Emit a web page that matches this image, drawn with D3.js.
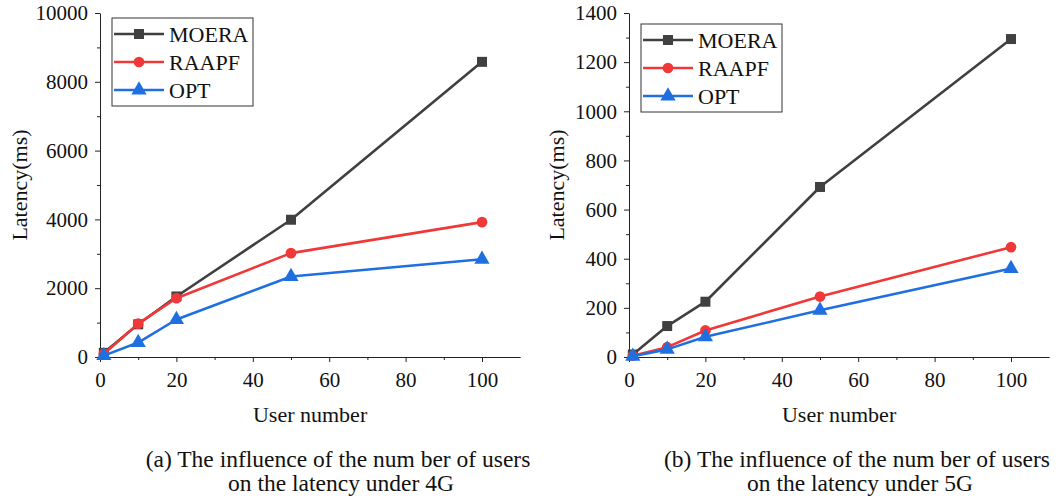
<!DOCTYPE html>
<html>
<head>
<meta charset="utf-8">
<script src="https://cdn.jsdelivr.net/npm/d3@7"></script>
<style>
  body { margin: 0; background: #fff; }
  .axis path, .axis line { stroke: #222; stroke-width: 1; }
  svg text { font-family: "Liberation Serif", "Times New Roman", serif; }
</style>
</head>
<body>
<div id="chart"></div>
<script>
// user counts on the x axis
const users = [1, 10, 20, 50, 100];
const seriesNames = ["MOERA", "RAAPF", "OPT"];

// latency (ms) under 4G
const moera4g = [120, 950, 1760, 3990, 8580];
const raapf4g = [90, 970, 1710, 3020, 3920];
const opt4g = [40, 420, 1090, 2340, 2840];

// latency (ms) under 5G
const moera5g = [10, 126, 225, 692, 1294];
const raapf5g = [5, 40, 108, 246, 447];
const opt5g = [3, 31, 82, 190, 360];

const captions4g = ["(a) The influence of the num ber of users", "on the latency under 4G"];
const captions5g = ["(b) The influence of the num ber of users", "on the latency under 5G"];

var colors = ["#404040", "#f03838", "#1f6fe0"];
var shapes = [d3.symbolSquare, d3.symbolCircle, d3.symbolTriangle];
var shapeSize = [100, 90, 100];

const W = 1061, H = 503;
var svg = d3.select("#chart").append("svg")
  .attr("width", W)
  .attr("height", H);

function drawPanel(opts) {
  let g = svg.append("g");
  let x = d3.scaleLinear().domain([0, 110]).range([opts.left, opts.left + 382 * 1.1]);
  let y = d3.scaleLinear().domain([0, opts.ymax]).range([357, 13]);

  // minor ticks first, then major with labels
  g.append("g").attr("class", "axis")
    .attr("transform", "translate(0,357)")
    .call(d3.axisBottom(x).tickValues(d3.range(10, 110, 20)).tickSize(3).tickFormat(""))
    .select(".domain").remove();
  g.append("g").attr("class", "axis")
    .attr("transform", "translate(0,357)")
    .call(d3.axisBottom(x).tickValues(d3.range(0, 101, 20)).tickSize(5).tickSizeOuter(0)
      .tickPadding(10).tickFormat(d3.format("d")));

  g.append("g").attr("class", "axis")
    .attr("transform", "translate(" + opts.left + ",0)")
    .call(d3.axisLeft(y).tickValues(d3.range(opts.ystep / 2, opts.ymax, opts.ystep)).tickSize(3).tickFormat(""))
    .select(".domain").remove();
  g.append("g").attr("class", "axis")
    .attr("transform", "translate(" + opts.left + ",0)")
    .call(d3.axisLeft(y).tickValues(d3.range(0, opts.ymax + 1, opts.ystep)).tickSize(5).tickSizeOuter(0)
      .tickPadding(7).tickFormat(d3.format("d")));
  g.selectAll(".axis").attr("font-size", 21);
  g.selectAll(".axis text").attr("fill", "#111");

  // axis titles
  g.append("text")
    .attr("transform", "translate(" + opts.ylabX + ",185) rotate(-90)")
    .attr("text-anchor", "middle")
    .attr("font-size", 22)
    .attr("fill", "#111")
    .text("Latency(ms)");
  g.append("text")
    .attr("x", (x.range()[0] + x.range()[1]) / 2)
    .attr("y", 422)
    .attr("text-anchor", "middle")
    .attr("font-size", 22)
    .attr("fill", "#111")
    .text("User number");

  // lines + markers
  let line = d3.line()
    .x((d, i) => x(users[i]))
    .y((d) => y(d));
  opts.series.forEach((vals, k) => {
    g.append("path")
      .datum(vals)
      .attr("fill", "none")
      .attr("stroke", colors[k])
      .attr("stroke-width", 2.6)
      .attr("stroke-linejoin", "round")
      .attr("d", line);
    g.selectAll(".pt" + k).data(vals).enter()
      .append("path")
      .attr("transform", (d, i) => "translate(" + x(users[i]) + "," + y(d) + ")")
      .attr("d", d3.symbol().type(shapes[k]).size(shapeSize[k]))
      .attr("fill", colors[k]);
  });

  // legend
  let lg = g.append("g").attr("transform", "translate(" + opts.legX + "," + opts.legY + ")");
  lg.append("rect")
    .attr("width", 141).attr("height", 88)
    .attr("fill", "#fff").attr("stroke", "#333").attr("stroke-width", 1);
  seriesNames.forEach((name, k) => {
    let cy = 16 + k * 28;
    lg.append("line")
      .attr("x1", 2).attr("x2", 52).attr("y1", cy).attr("y2", cy)
      .attr("stroke", colors[k]).attr("stroke-width", 2.6);
    lg.append("path")
      .attr("transform", "translate(27," + cy + ")")
      .attr("d", d3.symbol().type(shapes[k]).size(shapeSize[k]))
      .attr("fill", colors[k]);
    lg.append("text")
      .attr("x", 57).attr("y", cy).attr("dy", "0.35em")
      .attr("font-size", 22)
      .attr("fill", "#111")
      .text(name);
  });

  // caption
  opts.caption.forEach((c, i) => {
    g.append("text")
      .attr("x", opts.capX + i * 3)
      .attr("y", 467 + i * 24)
      .attr("text-anchor", "middle")
      .attr("font-size", 23.5)
      .attr("fill", "#111")
      .text(c);
  });
}

drawPanel({left: 100, ymax: 10000, ystep: 2000, series: [moera4g, raapf4g, opt4g],
  ylabX: 27, legX: 112, legY: 18, caption: captions4g, capX: 338});
drawPanel({left: 629, ymax: 1400, ystep: 200, series: [moera5g, raapf5g, opt5g],
  ylabX: 564, legX: 641, legY: 24, caption: captions5g, capX: 857});
</script>
</body>
</html>
